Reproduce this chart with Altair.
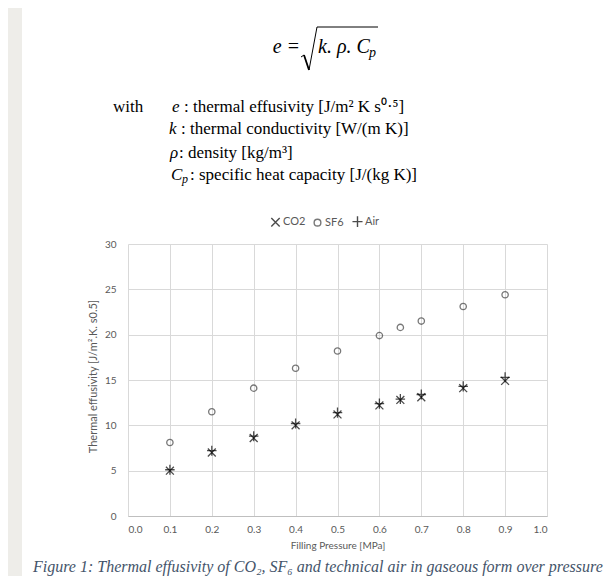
import altair as alt
import pandas as pd

# ---- data ----
pressure = [0.1, 0.2, 0.3, 0.4, 0.5, 0.6, 0.65, 0.7, 0.8, 0.9]
co2 = [5.0, 7.0, 8.6, 10.0, 11.2, 12.2, 12.8, 13.1, 14.1, 14.9]
sf6 = [8.1, 11.5, 14.1, 16.3, 18.2, 19.9, 20.8, 21.5, 23.1, 24.4]
air = [5.1, 7.2, 8.8, 10.2, 11.4, 12.4, 12.9, 13.4, 14.3, 15.3]
series_names = ["CO2", "SF6", "Air"]
x_ticks = [0.0, 0.1, 0.2, 0.3, 0.4, 0.5, 0.6, 0.7, 0.8, 0.9, 1.0]
y_ticks = [0, 5, 10, 15, 20, 25, 30]

rows = []
for name, vals in zip(series_names, [co2, sf6, air]):
    for p, v in zip(pressure, vals):
        rows.append({"p": p, "e": v, "gas": name})
df = pd.DataFrame(rows)

W, H = 419, 272
LABEL = "#595959"
FONT = "Lato"
SERIF = "Liberation Serif"

X_PATH = "M-1.25,-1.25L1.25,1.25M1.25,-1.25L-1.25,1.25"
PLUS_PATH = "M-1.5,0L1.5,0M0,-1.6L0,1.6"

legend_def = alt.Legend(orient="none", direction="horizontal", title=None,
                        legendX=142, legendY=-28, padding=0,
                        labelFont=FONT, labelFontSize=11, labelColor=LABEL,
                        symbolSize=45, symbolStrokeWidth=1.4,
                        columnPadding=5, labelOffset=2)

points = alt.Chart(df).mark_point(filled=False, strokeWidth=1.3, size=40).encode(
    x=alt.X("p:Q",
            scale=alt.Scale(domain=[0, 1], nice=False),
            axis=alt.Axis(values=x_ticks, format=".1f", title="Filling Pressure [MPa]",
                          ticks=False, labelPadding=8, titlePadding=6,
                          domainColor="#bfbfbf", gridColor="#d9d9d9")),
    y=alt.Y("e:Q",
            scale=alt.Scale(domain=[0, 30], nice=False),
            axis=alt.Axis(values=y_ticks, title="Thermal effusivity [J/m².K. s0.5]",
                          ticks=False, domain=False, labelPadding=12,
                          titleX=-30, titleY=H / 2 - 4, titleAlign="center",
                          titleFontSize=11,
                          gridColor="#d9d9d9")),
    shape=alt.Shape("gas:N",
                    scale=alt.Scale(domain=series_names, range=[X_PATH, "circle", PLUS_PATH]),
                    legend=legend_def),
    color=alt.Color("gas:N",
                    scale=alt.Scale(domain=series_names, range=["#000000", "#404040", "#000000"]),
                    legend=legend_def),
)

one = pd.DataFrame({"a": [0]})


def txt(s, x, y, size=17, italic=False, align="left", color="#000000", font=SERIF, baseline="alphabetic"):
    return alt.Chart(one).mark_text(
        text=s, font=font, fontSize=size, fontStyle="italic" if italic else "normal",
        align=align, baseline=baseline, color=color
    ).encode(x=alt.value(x), y=alt.value(y))


def seg(x1, y1, x2, y2, w=1.2):
    return alt.Chart(one).mark_rule(color="#000000", strokeWidth=w).encode(
        x=alt.value(x1), y=alt.value(y1), x2=alt.value(x2), y2=alt.value(y2))


# left grey page strip
strip = alt.Chart(one).mark_rect(color="#eeede9").encode(
    x=alt.value(-120), x2=alt.value(-106), y=alt.value(-236), y2=alt.value(340))

decor = [
    strip,
    # formula
    txt("e =", 172, -191, size=20, italic=True, align="right"),
    seg(173, -187, 176, -189, 1.0),
    seg(176, -189, 181, -174, 1.8),
    seg(181, -174, 189, -217, 1.0),
    seg(189, -217, 250, -217, 1.0),
    txt("k. ρ. C", 190, -191, size=20, italic=True),
    txt("p", 241, -187, size=14, italic=True),
    # definitions
    txt("with", -15, -132),
    txt("e", 44, -132, italic=True),
    txt(": thermal effusivity [J/m² K s⁰·⁵]", 56, -132),
    txt("k", 41, -110, italic=True),
    txt(": thermal conductivity [W/(m K)]", 53, -110),
    txt("ρ", 42, -86, italic=True),
    txt(": density [kg/m³]", 51, -86),
    txt("C", 43, -64, italic=True),
    txt("p", 54, -61, size=12, italic=True),
    txt(" : specific heat capacity [J/(kg K)]", 62, -64),
    # caption
    txt("Figure 1: Thermal effusivity of CO₂, SF₆ and technical air in gaseous form over pressure",
        -95, 328, size=16, italic=True, color="#44546a"),
]

chart = alt.layer(points, *decor).properties(
    width=W, height=H,
    autosize=alt.AutoSizeParams(type="none"),
    padding={"left": 120, "top": 236, "right": 58, "bottom": 60},
    background="#ffffff",
).configure_view(stroke=None).configure_axis(
    labelFont=FONT, labelFontSize=10, labelColor=LABEL,
    titleFont=FONT, titleFontSize=10, titleColor=LABEL, titleFontWeight="normal",
)

chart.save("out.html", embed_options={"renderer": "svg", "actions": False})
